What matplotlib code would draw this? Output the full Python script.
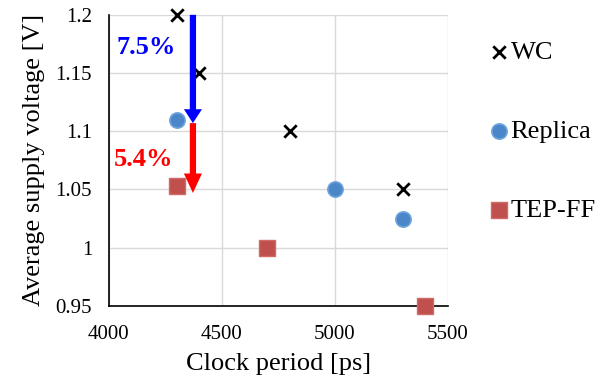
import matplotlib
matplotlib.use("Agg")
import matplotlib.pyplot as plt

# Data
wc_x = [4300, 4400, 4800, 5300]
wc_y = [1.2, 1.15, 1.1, 1.05]
replica_x = [4300, 5000, 5300]
replica_y = [1.11, 1.05, 1.025]
tep_x = [4300, 4700, 5400]
tep_y = [1.053, 1.0, 0.95]

plt.rcParams["font.family"] = ["Liberation Serif", "DejaVu Serif"]

fig = plt.figure(figsize=(5.98, 3.80), dpi=100)
ax = fig.add_axes([0.182, 0.195, 0.567, 0.766])

ax.scatter(wc_x, wc_y, marker="x", s=80, color="black", linewidths=2.0, label="WC", zorder=4, clip_on=False)
ax.scatter(replica_x, replica_y, marker="o", s=120, color="#4a86c8", edgecolors="#6fa3dc", linewidths=1.2,
           label="Replica", zorder=4, clip_on=False)
ax.scatter(tep_x, tep_y, marker="s", s=120, color="#c0504d", edgecolors="#cf6a67", linewidths=1.0,
           label="TEP-FF", zorder=4, clip_on=False)

# Arrows showing voltage reduction
ax.annotate("", xy=(4372, 1.107), xytext=(4372, 1.2),
            arrowprops=dict(facecolor="#0000ff", edgecolor="none", width=4.5, headwidth=13, headlength=10),
            zorder=5, annotation_clip=False)
ax.annotate("", xy=(4372, 1.047), xytext=(4372, 1.107),
            arrowprops=dict(facecolor="#ff0000", edgecolor="none", width=4.5, headwidth=13, headlength=14),
            zorder=5)
ax.text(4164, 1.172, "7.5%", color="#0000ff", fontsize=19, fontweight="bold", ha="center", va="center")
ax.text(4155, 1.076, "5.4%", color="#ff0000", fontsize=19, fontweight="bold", ha="center", va="center")

ax.set_xlim(4000, 5500)
ax.set_ylim(0.95, 1.2)
ax.set_xticks([4000, 4500, 5000, 5500])
ax.set_yticks([0.95, 1.0, 1.05, 1.1, 1.15, 1.2])
ax.set_yticklabels(["0.95", "1", "1.05", "1.1", "1.15", "1.2"])
ax.tick_params(labelsize=15, length=0)
ax.tick_params(axis="y", pad=12)
ax.tick_params(axis="x", pad=14)
ax.grid(True, color="#d9d9d9", linewidth=1)
ax.set_axisbelow(True)
for side in ["top", "right"]:
    ax.spines[side].set_visible(False)
for side in ["left", "bottom"]:
    ax.spines[side].set_color("black")
    ax.spines[side].set_linewidth(1.2)

ax.set_xlabel("Clock period [ps]", fontsize=19, labelpad=6)
ax.set_ylabel("Average supply voltage [V]", fontsize=19, labelpad=8)

fig.legend(loc="upper left", bbox_to_anchor=(0.814, 0.894), frameon=False, fontsize=19,
           labelspacing=2.1, handletextpad=0.0, handlelength=0.9, borderaxespad=0, borderpad=0)

fig.savefig("out.png", dpi=100)
